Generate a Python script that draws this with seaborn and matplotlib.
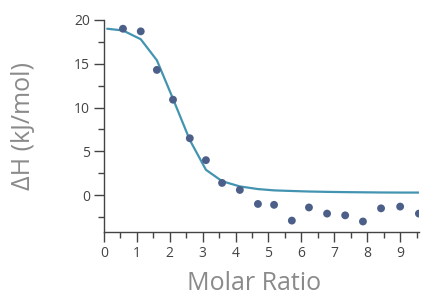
import numpy as np
import pandas as pd
import matplotlib.pyplot as plt
import seaborn as sns
from matplotlib.ticker import MultipleLocator

# ---- data ----
ratio = [0.58, 1.12, 1.61, 2.10, 2.61, 3.10, 3.59, 4.13, 4.68, 5.17,
         5.71, 6.23, 6.78, 7.33, 7.87, 8.42, 9.00, 9.57]
dh = [19.0, 18.7, 14.3, 10.9, 6.5, 4.0, 1.4, 0.6, -1.0, -1.1,
      -2.9, -1.4, -2.1, -2.3, -3.0, -1.5, -1.3, -2.1]

fit_ratio = [0.10, 0.58, 1.12, 1.61, 2.10, 2.61, 3.10, 3.59, 4.13, 4.68,
             5.17, 5.71, 6.23, 6.78, 7.33, 7.87, 8.42, 9.00, 9.57]
fit_dh = [19.0, 18.8, 17.8, 15.4, 11.0, 6.3, 2.9, 1.6, 1.0, 0.7,
          0.55, 0.48, 0.42, 0.38, 0.35, 0.33, 0.31, 0.30, 0.30]

pts = pd.DataFrame({"ratio": ratio, "dh": dh})
fit = pd.DataFrame({"ratio": fit_ratio, "dh": fit_dh})

# ---- style ----
sns.set_style("ticks")
plt.rcParams['font.family'] = ['Open Sans', 'DejaVu Sans']

fig = plt.figure(figsize=(4.24, 2.98), dpi=100)
ax = fig.add_axes([0.245, 0.2215, 0.743, 0.7115])

sns.lineplot(data=fit, x="ratio", y="dh", ax=ax, color="#4394b0", lw=1.6,
             sort=False)
sns.scatterplot(data=pts, x="ratio", y="dh", ax=ax, color="#4b5f89",
                s=32, edgecolor="none", zorder=3)

ax.set_xlim(0, 9.57)
ax.set_ylim(-4.2, 20)
ax.xaxis.set_major_locator(MultipleLocator(1))
ax.xaxis.set_minor_locator(MultipleLocator(0.5))
ax.yaxis.set_major_locator(MultipleLocator(5))
ax.yaxis.set_minor_locator(MultipleLocator(2.5))

for s in ["top", "right"]:
    ax.spines[s].set_visible(False)
for s in ["left", "bottom"]:
    ax.spines[s].set_color("#444444")
    ax.spines[s].set_linewidth(1.0)

ax.tick_params(which="major", length=7, width=1.0, color="#444444",
               labelsize=10, labelcolor="#444444", pad=3)
ax.tick_params(which="minor", length=4, width=1.0, color="#444444")

ax.set_xlabel("Molar Ratio", fontsize=18, color="#8a8a8a")
ax.set_ylabel("ΔH (kJ/mol)", fontsize=18, color="#8a8a8a")
ax.xaxis.set_label_coords(0.476, -0.185)
ax.yaxis.set_label_coords(-0.215, 0.5)

fig.savefig("out.png", dpi=100)
